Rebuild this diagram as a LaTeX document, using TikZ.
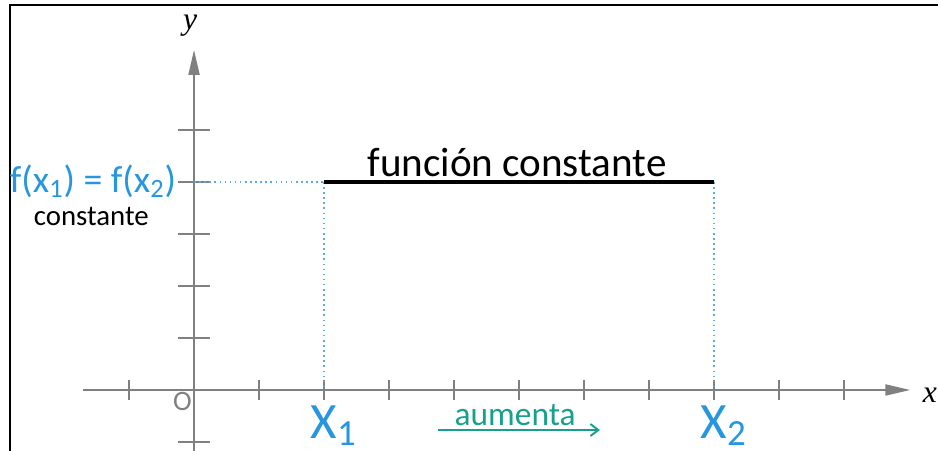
\documentclass[tikz,border=0pt]{standalone}
\usepackage{fontspec}
\setmainfont{Carlito}
\newfontfamily\axisfont{Liberation Serif}
\usetikzlibrary{arrows.meta, positioning}
\definecolor{axisgray}{RGB}{128,128,128}
\definecolor{valblue}{RGB}{38,150,222}
\definecolor{dotblue}{RGB}{90,170,230}
\definecolor{growteal}{RGB}{24,160,140}
\newcommand{\lowdigit}[1]{\rlap{\raisebox{-4pt}{\fontsize{21}{24}\selectfont #1}}}
\tikzset{
  axisline/.style={draw=axisgray,line width=1.1pt,-{Triangle[length=5mm,width=2.2mm]}},
  tickmark/.style={draw=axisgray,line width=1.1pt},
  guide/.style={draw=dotblue,dotted,line width=0.9pt},
  levelline/.style={draw=black,line width=1.8pt},
  borderline/.style={draw=black,line width=1.2pt},
  axlab/.style={font=\axisfont\itshape\fontsize{18}{20}\selectfont,inner sep=0pt},
  pointlab/.style={text=valblue,font=\fontsize{29}{32}\selectfont,inner sep=0pt},
  growarrow/.style={draw=growteal,line width=1.1pt,-{Straight Barb[length=1.6mm,width=2.4mm]}}
}

\begin{document}
\begin{tikzpicture}[x=1.3cm,y=1.04cm]
\useasboundingbox (-2.985,-1.173) rectangle (11.446,7.5);
\coordinate (tl) at (-2.831,7.404);
\coordinate (bl) at (-2.831,-1.173);
\coordinate (tr) at (11.446,7.404);
\draw[borderline] (bl) -- (tl) -- (tr);

\coordinate (xs) at (-1.71,0);
\coordinate (xe) at (11.02,0);
\coordinate (ys) at (0,-1.173);
\coordinate (ye) at (0,6.54);
\foreach \i in {-1,1,2,...,10}
  \draw[tickmark] (\i,-0.2) -- (\i,0.2);
\foreach \j in {-1,1,2,3,4,5}
  \draw[tickmark] (-0.25,\j) -- (0.25,\j);
\draw[axisline] (xs) -- (xe);
\draw[axisline] (ys) -- (ye);
\node[axlab] (xlab) at (11.32,-0.1) {x};
\node[axlab] (ylab) at (-0.06,7.0) {y};
\node[text=axisgray,font=\fontsize{16}{18}\selectfont,inner sep=0pt] (olab) at (-0.18,-0.23) {O};

\coordinate (fy) at (0,4);
\coordinate (p1) at (2,4);
\coordinate (p2) at (8,4);
\coordinate (q1) at (2,0);
\coordinate (q2) at (8,0);
\draw[guide] (fy) -- (p1);
\draw[guide] (p1) -- (q1);
\draw[guide] (p2) -- (q2);
\draw[levelline] (p1) -- (p2);

\node[font=\fontsize{23.4}{27}\selectfont,inner sep=0pt,anchor=base] (funclab) at (4.97,4.096) {función constante};
\node[text=valblue,font=\fontsize{21.5}{25}\selectfont,inner sep=0pt] (fxlab) at (-1.554,4.02) {f(x\textsubscript{1}) = f(x\textsubscript{2})};
\node[font=\fontsize{16.4}{19}\selectfont,inner sep=0pt] (constlab) at (-1.58,3.34) {constante};

\node[pointlab] (xone) at (2,-0.68) {X\lowdigit{1}};
\node[pointlab] (xtwo) at (8,-0.68) {X\lowdigit{2}};

\node[text=growteal,font=\fontsize{19}{22}\selectfont,inner sep=0pt,anchor=base] (growlab) at (4.94,-0.69) {aumenta};
\coordinate (ga) at (3.754,-0.77);
\coordinate (gb) at (6.246,-0.77);
\draw[growarrow] (ga) -- (gb);
\end{tikzpicture}
\end{document}
